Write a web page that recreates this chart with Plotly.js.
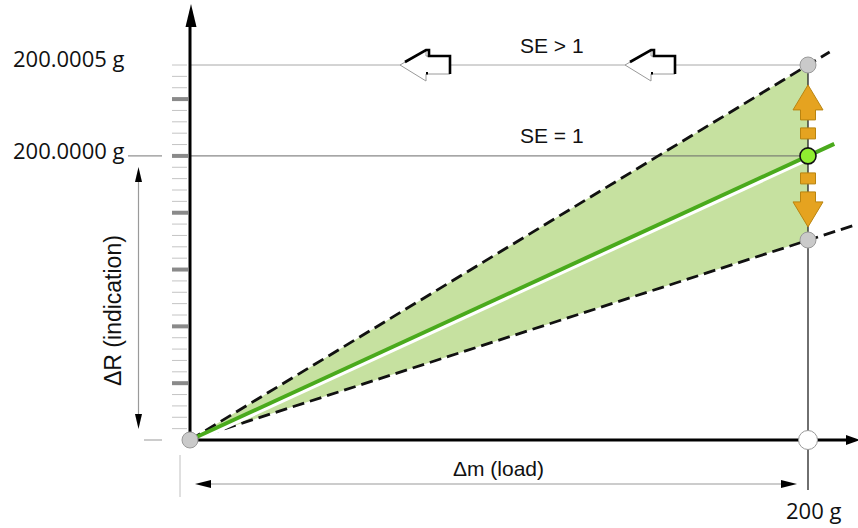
<!DOCTYPE html>
<html><head><meta charset="utf-8">
<script src="https://cdn.plot.ly/plotly-3.0.1.min.js"></script>
<style>html,body{margin:0;padding:0;background:#fff}</style>
</head><body><div id="chart" style="width:858px;height:528px"></div>
<script>
// ---------------- data ----------------
const loadG = [0, 200];                 // Δm (load) in g
const indicationSE1 = [0, 25];          // ΔR, SE = 1 (scale divisions)
const indicationUpper = [0, 33];        // ΔR, upper limit (SE > 1)
const indicationLower = [0, 17.6];      // ΔR, lower limit
const extLoadUpper = [0, 200, 207];
const extUpper = [0, 33, 34.15];
const extLoadLower = [0, 200, 215];
const extLower = [0, 17.6, 18.9];
const extLoadSE1 = [0, 200, 208.5];
const extSE1 = [0, 25, 26.06];
const tickLabels = ['200.0005 g', '200.0000 g'];
const tickDivs = [33, 25];
const scaleDivs = [1,2,3,4,5,6,7,8,9,10,11,12,13,14,15,16,17,18,19,20,21,22,23,24,25,26,27,28,29,30,31,32,33];
const majorDivs = [5,10,15,20,25,30];
const loadLabel = '200 g';

// ---------------- geometry helpers (pixel <-> data) ----------------
const W = 858, H = 528;
const SX = 3.09, SY = 375/33;
const X0 = -190/SX, X1 = X0 + W/SX;
const Y1 = 440/SY, Y0 = Y1 - H/SY;
const dx = p => X0 + p/SX, dy = p => Y1 - p/SY;
const px = x => (x - X0)*SX, py = y => (Y1 - y)*SY;
function P(pts){ return {x: pts.map(p=>p?dx(p[0]):null), y: pts.map(p=>p?dy(p[1]):null)}; }
function rel(ax, ay, pts){ return pts.map(p=>p?[ax+p[0], ay+p[1]]:null); }

const traces = [];
function line(pts, color, width, dash){
  const d = P(pts);
  traces.push({type:'scatter', mode:'lines', x:d.x, y:d.y, hoverinfo:'skip',
    line:{color:color, width:width, dash:dash||'solid'}, showlegend:false});
}
function poly(pts, fill, lc, lw){
  const d = P(pts);
  traces.push({type:'scatter', mode:'lines', x:d.x, y:d.y, fill:'toself', fillcolor:fill,
    hoverinfo:'skip', line:{color:lc||fill, width:lw||0}, showlegend:false});
}

// green tolerance band
traces.push({type:'scatter', mode:'lines', x:[loadG[0], loadG[1], loadG[1], loadG[0]],
  y:[indicationLower[0], indicationUpper[1], indicationLower[1], indicationLower[0]],
  fill:'toself', fillcolor:'#c6e1a0', line:{width:0}, hoverinfo:'skip', showlegend:false});

// reference horizontal lines
traces.push({type:'scatter', mode:'lines', x:[loadG[0], loadG[1]], y:[tickDivs[0], tickDivs[0]],
  line:{color:'#a8a8a8', width:1}, hoverinfo:'skip', showlegend:false});
traces.push({type:'scatter', mode:'lines', x:[loadG[0], loadG[1]], y:[tickDivs[1], tickDivs[1]],
  line:{color:'#6a6a6a', width:1}, hoverinfo:'skip', showlegend:false});
line([[128,py(tickDivs[1])],[162,py(tickDivs[1])]], '#777', 1);
line([[144,py(0)],[162,py(0)]], '#999', 1);

// vertical line at 200 g
line([[px(loadG[1]), py(indicationUpper[1])],[px(loadG[1]), 490]], '#222', 1.3);
// small gray tick at origin below axis
line([[180,455],[180,497]], '#c0c0c0', 1);

// dashed limits
traces.push({type:'scatter', mode:'lines', x:extLoadUpper, y:extUpper,
  line:{color:'#111', width:2.8, dash:'12px,6px'}, hoverinfo:'skip', showlegend:false});
traces.push({type:'scatter', mode:'lines', x:extLoadLower, y:extLower,
  line:{color:'#111', width:2.8, dash:'12px,6px'}, hoverinfo:'skip', showlegend:false});

// SE = 1 line with white highlight
traces.push({type:'scatter', mode:'lines', x:extLoadSE1, y:extSE1.map(v=>v-2.2/SY),
  line:{color:'#ffffff', width:6}, hoverinfo:'skip', showlegend:false});
traces.push({type:'scatter', mode:'lines', x:extLoadSE1, y:extSE1,
  line:{color:'#4aaa1c', width:4}, hoverinfo:'skip', showlegend:false});

// axes
line([[px(0),py(0)],[px(0),24]], '#000', 3);
line([[px(0),py(0)],[848,py(0)]], '#000', 3);
poly([[191,4],[185.5,27],[196.5,27],[191,4]], '#000');
poly([[860,440],[846,435],[846,445],[860,440]], '#000');

// scale ticks
const thinPts = [];
scaleDivs.forEach(d=>{ if(!majorDivs.includes(d)) thinPts.push([172,py(d)],[187,py(d)],null); });
line(thinPts, '#c4c4c4', 1);
const thickPts = [];
majorDivs.forEach(d=>{ thickPts.push([172,py(d)],[188,py(d)],null); });
line(thickPts, '#8a8a8a', 4);

// dimension arrows
line([[138.5,180],[138.5,416]], '#9a9a9a', 1.2);
poly([[138.5,167],[135,182],[142,182],[138.5,167]], '#000');
poly([[138.5,429],[135,414],[142,414],[138.5,429]], '#000');
line([[208,484],[784,484]], '#9a9a9a', 1.2);
poly([[195,484],[211,480],[211,488],[195,484]], '#000');
poly([[797,484],[781,480],[781,488],[797,484]], '#000');

// hollow "SE > 1" arrows
[400, 625].forEach(tx=>{
  const ty = py(indicationUpper[1]);
  const shape = [[0,0],[26,-15],[26,-9],[50,-9],[50,9],[26,9],[26,16],[0,0]];
  poly(rel(tx, ty, shape), '#ffffff', '#9a9a9a', 1);
  line(rel(tx, ty, [[5,-3],[26,-15],[29,-15],[29,-9],[50,-9],[50,9]]), '#000', 2.6);
  line(rel(tx, ty, [[27,7],[27,9.5]]), '#000', 2);
});

// orange arrows on the 200 g line
{
  const cx = px(loadG[1]), cy = py(indicationSE1[1]);
  const up = [[0,-71],[15,-46],[7.5,-46],[7.5,-36],[-7.5,-36],[-7.5,-46],[-15,-46],[0,-71]];
  const rUp = [[-7.5,-28],[7.5,-28],[7.5,-17],[-7.5,-17],[-7.5,-28]];
  const down = up.map(p=>[p[0],-p[1]]);
  const rDn = rUp.map(p=>[p[0],-p[1]]);
  [up, rUp, down, rDn].forEach(s=>poly(rel(cx, cy, s), '#e5a320', '#b98410', 1));
}

// points
traces.push({type:'scatter', mode:'markers', x:[loadG[0], loadG[1], loadG[1]],
  y:[indicationUpper[0], indicationUpper[1], indicationLower[1]],
  marker:{size:16, color:'#cacaca', line:{color:'#9a9a9a', width:1}}, hoverinfo:'skip', showlegend:false});
traces.push({type:'scatter', mode:'markers', x:[loadG[1]], y:[0],
  marker:{size:19, color:'#ffffff', line:{color:'#9a9a9a', width:1}}, hoverinfo:'skip', showlegend:false});
traces.push({type:'scatter', mode:'markers', x:[loadG[1]], y:[indicationSE1[1]],
  marker:{size:16, color:'#90ee30', line:{color:'#111', width:1.6}}, hoverinfo:'skip', showlegend:false});

// texts
const calib = {family:'Open Sans, Noto Sans, sans-serif', size:22, color:'#111'};
const arial = {family:'Liberation Sans, Arial, sans-serif', size:21, color:'#111'};
const arialL = {family:'Liberation Sans, Arial, sans-serif', size:23, color:'#111'};
const annotations = [
  {x:dx(11), y:dy(58), xanchor:'left', yanchor:'middle', text:tickLabels[0], font:calib, showarrow:false},
  {x:dx(11), y:dy(150), xanchor:'left', yanchor:'middle', text:tickLabels[1], font:calib, showarrow:false},
  {x:dx(813), y:dy(510), xanchor:'center', yanchor:'middle', text:loadLabel, font:calib, showarrow:false},
  {x:dx(552), y:dy(45), xanchor:'center', yanchor:'middle', text:'SE &gt; 1', font:arial, showarrow:false},
  {x:dx(552), y:dy(135), xanchor:'center', yanchor:'middle', text:'SE = 1', font:arial, showarrow:false},
  {x:dx(498), y:dy(468), xanchor:'center', yanchor:'middle', text:'Δm (load)', font:arial, showarrow:false},
  {x:dx(113), y:dy(311), xanchor:'center', yanchor:'middle', text:'ΔR (indication)', font:arialL, textangle:-90, showarrow:false}
];

const layout = {
  width:W, height:H, margin:{l:0,r:0,t:0,b:0,pad:0},
  paper_bgcolor:'#ffffff', plot_bgcolor:'#ffffff', showlegend:false,
  xaxis:{range:[X0,X1], visible:false, fixedrange:true},
  yaxis:{range:[Y0,Y1], visible:false, fixedrange:true},
  annotations: annotations
};
Plotly.newPlot('chart', traces, layout, {staticPlot:true, displayModeBar:false});
</script></body></html>
